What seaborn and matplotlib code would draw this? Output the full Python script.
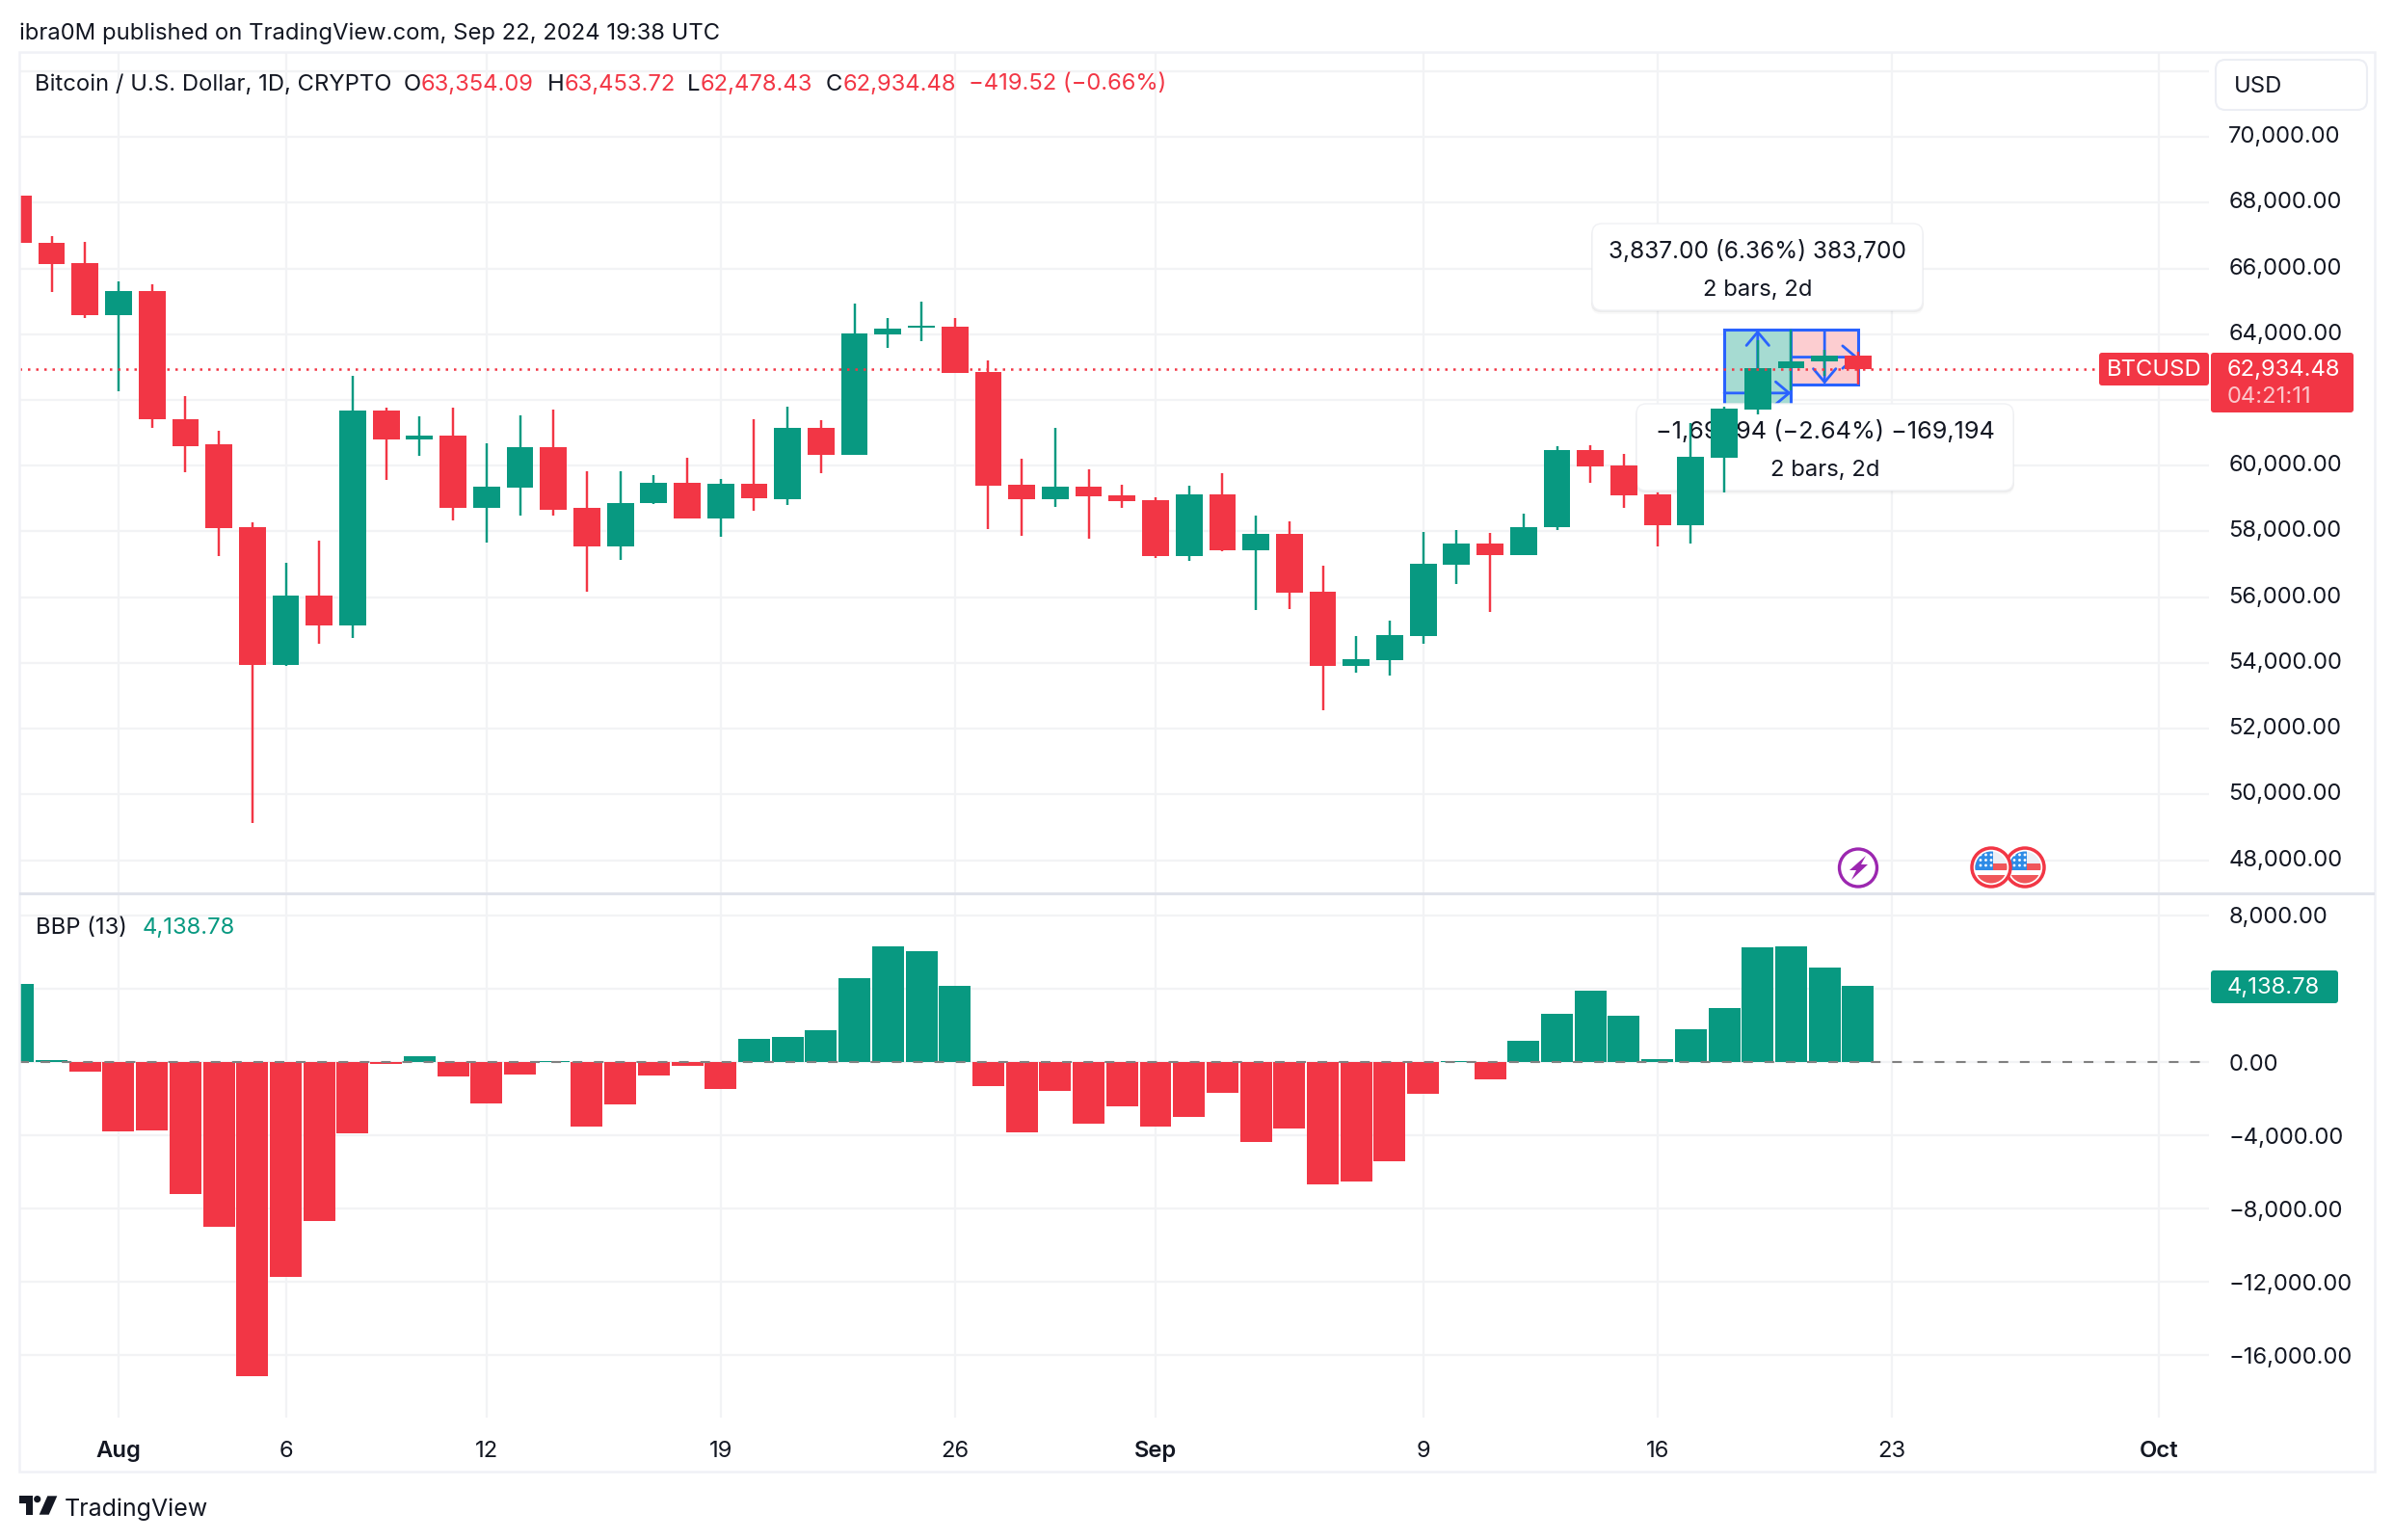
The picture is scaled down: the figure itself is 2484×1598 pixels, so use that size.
import numpy as np
import pandas as pd
import seaborn as sns
import matplotlib.pyplot as plt
import matplotlib.dates as mdates
from matplotlib.patches import Rectangle, FancyBboxPatch, Circle, Polygon
from matplotlib.transforms import Affine2D

W, H = 2484, 1598
RED = "#f23645"
GREEN = "#089981"
BLUE = "#2962ff"
DARK = "#131722"
GRID = "#f2f3f5"

# daily candles, 29 Jul to 22 Sep 2024
dates = pd.date_range("2024-07-29", "2024-09-22")
opens = [68222, 66784, 66170, 64589, 65321, 61426, 60642, 58119, 53937, 56041, 55126, 61687, 60812, 60929,
         58707, 59322, 60576, 58707, 57531, 58851, 59492, 58407, 59439, 58983, 61150, 60330, 63990, 64195,
         64224, 62848, 59423, 58983, 59364, 59100, 58954, 57256, 59130, 57431, 57929, 56172, 53918, 54094,
         54826, 56992, 57636, 57285, 58116, 60488, 60020, 59141, 58175, 60254, 61719, 62957, 63182, 63354.09]
closes = [66771, 66144, 64589, 65321, 61400, 60602, 58093, 53937, 56041, 55126, 61687, 60812, 60929, 58707,
          59348, 60576, 58668, 57531, 58877, 59492, 58407, 59439, 58995, 61150, 60330, 64020, 64166, 64254,
          62819, 59393, 58983, 59364, 59071, 58925, 57256, 59130, 57431, 57929, 56143, 53918, 54123, 54855,
          57022, 57636, 57285, 58134, 60488, 59990, 59112, 58175, 60283, 61747, 62957, 63182, 63358, 62934.48]
highs = [68300, 66994, 66811, 65608, 65530, 62105, 61073, 58263, 57034, 57714, 62720, 61753, 61491, 61779,
         60668, 61543, 61713, 59844, 59818, 59701, 60250, 59609, 61400, 61794, 61384, 64927, 64488, 64986,
         64488, 63200, 60213, 61150, 59891, 59423, 59042, 59393, 59774, 58486, 58310, 56963, 54826, 55294,
         57988, 58046, 57958, 58526, 60595, 60634, 60371, 59200, 61308, 61786, 63830, 64128, 63534, 63453.72]
lows = [66500, 65295, 64497, 62275, 61164, 59792, 57243, 49127, 53900, 54577, 54747, 59557, 60289, 58328,
        57675, 58472, 58472, 56158, 57126, 58825, 58407, 57832, 58616, 58808, 59774, 60330, 63580, 63785,
        62819, 58076, 57871, 58749, 57783, 58720, 57197, 57109, 57402, 55616, 55646, 52571, 53713, 53625,
        54591, 56407, 55558, 57285, 58030, 59492, 58702, 57531, 57620, 59200, 61572, 62300, 62744, 62478.43]
bbp = [4250, 114, -523, -3773, -3728, -7205, -8978, -17130, -11729, -8683, -3887, -114, 318, -795,
       -2250, -682, 45, -3523, -2318, -727, -205, -1477, 1273, 1364, 1727, 4569, 6319, 6046,
       4160, -1318, -3841, -1568, -3364, -2409, -3523, -3000, -1682, -4364, -3614, -6682, -6523, -5409,
       -1727, 45, -955, 1159, 2636, 3887, 2523, 159, 1795, 2955, 6250, 6319, 5160, 4138.78]

price_ticks = [48000, 50000, 52000, 54000, 56000, 58000, 60000, 62000, 64000, 66000, 68000, 70000, 72000]
price_labels = ["48,000.00", "50,000.00", "52,000.00", "54,000.00", "56,000.00", "58,000.00", "60,000.00",
                "", "64,000.00", "66,000.00", "68,000.00", "70,000.00", ""]
bbp_ticks = [8000, 4000, 0, -4000, -8000, -12000, -16000]
bbp_labels = ["8,000.00", "", "0.00", "−4,000.00", "−8,000.00", "−12,000.00", "−16,000.00"]
time_ticks = ["2024-08-01", "2024-08-06", "2024-08-12", "2024-08-19", "2024-08-26", "2024-09-01",
              "2024-09-09", "2024-09-16", "2024-09-23", "2024-10-01"]
time_labels = ["Aug", "6", "12", "19", "26", "Sep", "9", "16", "23", "Oct"]

df = pd.DataFrame({"date": dates, "open": opens, "close": closes, "high": highs, "low": lows, "bbp": bbp})
df["x"] = mdates.date2num(df["date"])
df["top"] = df[["open", "close"]].max(axis=1)
df["bottom"] = df[["open", "close"]].min(axis=1)
df["color"] = np.where(df["close"] >= df["open"], GREEN, RED)
df["sign"] = np.where(df["bbp"] >= 0, "up", "down")
tick_x = mdates.date2num(pd.to_datetime(time_ticks))


def day(s):
    return mdates.date2num(pd.Timestamp(s))


sns.set_theme(style="white")
plt.rcParams["font.family"] = ["Inter", "DejaVu Sans"]
plt.rcParams["text.color"] = DARK

FS = 17.15
fig = plt.figure(figsize=(W / 100, H / 100), dpi=100, facecolor="white")
px = Affine2D().scale(1, -1).translate(0, H)

LEFT, RIGHT = 20, 2292
ax = fig.add_axes([LEFT / W, 1 - 927 / H, (RIGHT - LEFT) / W, (927 - 54) / H])
ax2 = fig.add_axes([LEFT / W, 1 - 1471 / H, (RIGHT - LEFT) / W, (1471 - 927) / H])

# bbp pane
sns.barplot(data=df, x="x", y="bbp", hue="sign", palette={"up": GREEN, "down": RED}, native_scale=True,
            dodge=False, width=0.95, saturation=1, linewidth=0, errorbar=None, legend=False, ax=ax2, zorder=3)
ax2.axhline(0, color="#808080", lw=1.5, ls=(0, (4.8, 5.8)), zorder=4)
ax2.set_xlabel("")
ax2.set_ylabel("")

# candles
ax.vlines(df["x"], df["low"], df["high"], colors=df["color"], lw=1.75, zorder=6)
ax.bar(df["x"], df["top"] - df["bottom"], bottom=df["bottom"], width=0.8, color=df["color"], linewidth=0, zorder=6)
ax.axhline(closes[-1], color=RED, lw=1.8, ls=(0, (1, 2.4)), zorder=7)

xlim = (day("2024-08-01") - 2.967, day("2024-08-01") + 62.49)
for a in (ax, ax2):
    a.set_xlim(xlim)
    a.set_xticks(tick_x)
    a.yaxis.tick_right()
    a.grid(True, color=GRID, lw=1.6, zorder=0)
    a.set_axisbelow(True)
    a.tick_params(axis="y", length=0, pad=14.5, labelsize=FS, labelcolor=DARK)
    for s in a.spines.values():
        s.set_visible(False)
ax.set_ylim(46990, 72583)
ax.set_yticks(price_ticks, price_labels)
ax.tick_params(axis="x", length=0, labelbottom=False)
for lab in ax.get_yticklabels():
    lab.set_transform(lab.get_transform() + Affine2D().translate(0, 2.5))
ax2.set_ylim(-19390, 9196)
ax2.set_yticks(bbp_ticks, bbp_labels)
ax2.set_xticks(tick_x, time_labels)
ax2.tick_params(axis="x", length=0, pad=17, labelsize=FS, labelcolor=DARK)
for lab in ax2.get_xticklabels():
    if lab.get_text() in ("Aug", "Sep", "Oct"):
        lab.set_fontweight("semibold")

# price range tools
d18, d19, d20, d21, d22 = [day(f"2024-09-{n}") for n in (18, 19, 20, 21, 22)]
tool_top, tool_low, tool_low2 = 64128, 60291, 62478
ax.add_patch(Rectangle((d18, tool_low), d20 - d18, tool_top - tool_low, fc="#a6dbd2", ec=BLUE, lw=2.2, zorder=2))
ax.add_patch(Rectangle((d20, tool_low2), d22 - d20, tool_top - tool_low2, fc="#fccdd0", ec=BLUE, lw=2.2, zorder=2))
arrow = dict(arrowstyle="->,head_length=0.5,head_width=0.42", color=BLUE, lw=2, shrinkA=0, shrinkB=0, mutation_scale=20)
for start, end in [((d19, tool_low), (d19, tool_top)),
                   ((d18, (tool_low + tool_top) / 2), (d20, (tool_low + tool_top) / 2)),
                   ((d21, tool_top), (d21, tool_low2)),
                   ((d20, (tool_low2 + tool_top) / 2), (d22, (tool_low2 + tool_top) / 2))]:
    ax.annotate("", xy=end, xytext=start, arrowprops=arrow, zorder=3)

# tooltips, the candles sit on top of them
for x0, y0, x1, y1, line1, line2, fs in [(1652, 232, 1995, 322, "3,837.00 (6.36%) 383,700", "2 bars, 2d", 17.6),
                                         (1698, 419, 2089, 509, "−1,691.94 (−2.64%) −169,194", "2 bars, 2d", 18.2)]:
    for off, al in [(4, 0.025), (2, 0.05)]:
        ax.add_patch(FancyBboxPatch((x0 - 1, y0 + off), x1 - x0 + 2, y1 - y0, boxstyle="round,pad=0,rounding_size=10",
                                    fc="black", ec="none", alpha=al, transform=px, zorder=4))
    ax.add_patch(FancyBboxPatch((x0, y0), x1 - x0, y1 - y0, boxstyle="round,pad=0,rounding_size=10",
                                fc="white", ec="#f0f1f4", lw=1, transform=px, zorder=4))
    ax.text((x0 + x1) / 2, y0 + 29, line1, transform=px, ha="center", va="center", fontsize=fs, zorder=5)
    ax.text((x0 + x1) / 2, y0 + 69, line2, transform=px, ha="center", va="center", fontsize=17.15, zorder=5)


def label(x, y, s, **kw):
    kw.setdefault("fontsize", FS)
    kw.setdefault("va", "center")
    return fig.text(x, y, s, transform=px, **kw)


# frame and divider
fig.add_artist(Rectangle((LEFT, 54), 2464 - LEFT, 1527 - 54, fill=False, ec="#f0f1f6", lw=1.8, transform=px))
fig.add_artist(Rectangle((LEFT, 926), 2464 - LEFT, 2.5, fc="#e0e3eb", ec="none", transform=px))
fig.add_artist(FancyBboxPatch((2299, 62), 157, 52, boxstyle="round,pad=0,rounding_size=10", fc="white", ec="#eceef4",
                              lw=1.5, transform=px))

# header texts
label(20, 34.5, "ibra0M published on TradingView.com, Sep 22, 2024 19:38 UTC")
label(36.5, 87.5, "Bitcoin / U.S. Dollar, 1D, CRYPTO")
for x, s, c in [(419, "O", DARK), (437, "63,354.09", RED), (568, "H", DARK), (586, "63,453.72", RED),
                (713, "L", DARK), (727, "62,478.43", RED), (857, "C", DARK), (875, "62,934.48", RED),
                (1005, "−419.52 (−0.66%)", RED)]:
    label(x, 87.5, s, color=c)
label(37, 963, "BBP (13)")
label(148, 963, "4,138.78", color=GREEN)
label(2318, 90, "USD")

# last value tags
for x0, y0, x1, y1, c in [(2178, 366, 2292, 400, RED), (2294, 366, 2442, 428, RED), (2294, 1007, 2426, 1041, GREEN)]:
    fig.add_artist(FancyBboxPatch((x0, y0), x1 - x0, y1 - y0, boxstyle="round,pad=0,rounding_size=3", fc=c, ec="none",
                                  transform=px))
label(2186, 384, "BTCUSD", color="white")
label(2311, 384, "62,934.48", color="white")
label(2311, 411.5, "04:21:11", color="white", alpha=0.72)
label(2311, 1025, "4,138.78", color="white")


# event icons under the candles
def flag(cx, cy):
    fig.add_artist(Circle((cx, cy), 21, fc="white", ec="none", transform=px))
    clip = Circle((cx, cy), 16.5, transform=px)
    parts = [Rectangle((cx - 18, cy - 4), 36, 7, fc="#f0565a", ec="none", transform=px),
             Rectangle((cx - 18, cy + 8), 36, 10, fc="#f0565a", ec="none", transform=px),
             Rectangle((cx - 18, cy - 18), 36, 14, fc="#eceff5", ec="none", transform=px),
             Rectangle((cx - 18, cy - 18), 20, 21, fc="#2e8be6", ec="none", transform=px)]
    for p in parts:
        fig.add_artist(p)
        p.set_clip_path(clip)
    for dx in (-11, -5.5, 0):
        for dy in (-13, -7.5, -2):
            fig.add_artist(Circle((cx + dx, cy + dy), 1.4, fc="white", ec="none", transform=px))
    fig.add_artist(Circle((cx, cy), 20, fill=False, ec=RED, lw=2.5, transform=px))


flag(2101, 900)
flag(2066, 900)
fig.add_artist(Circle((1928, 900.5), 19.5, fc="white", ec="#9c27b0", lw=2.4, transform=px))
fig.add_artist(Polygon([(1936, 888), (1919, 903), (1926, 903), (1921, 913), (1938, 897), (1931, 897)],
                       fc="#9c27b0", ec="none", transform=px))

# logo
for pts in ([(20, 1552.3), (34, 1552.3), (34, 1571.7), (26.7, 1571.7), (26.7, 1560), (20, 1560)],
            [(49.3, 1552.3), (59.3, 1552.3), (50.7, 1571.7), (40.7, 1571.7)]):
    fig.add_artist(Polygon(pts, fc=DARK, ec="none", transform=px))
fig.add_artist(Circle((38.7, 1555.6), 3.6, fc=DARK, ec="none", transform=px))
label(67, 1566.5, "TradingView", fontsize=18)

plt.savefig("out.png", dpi=100, facecolor="white")
